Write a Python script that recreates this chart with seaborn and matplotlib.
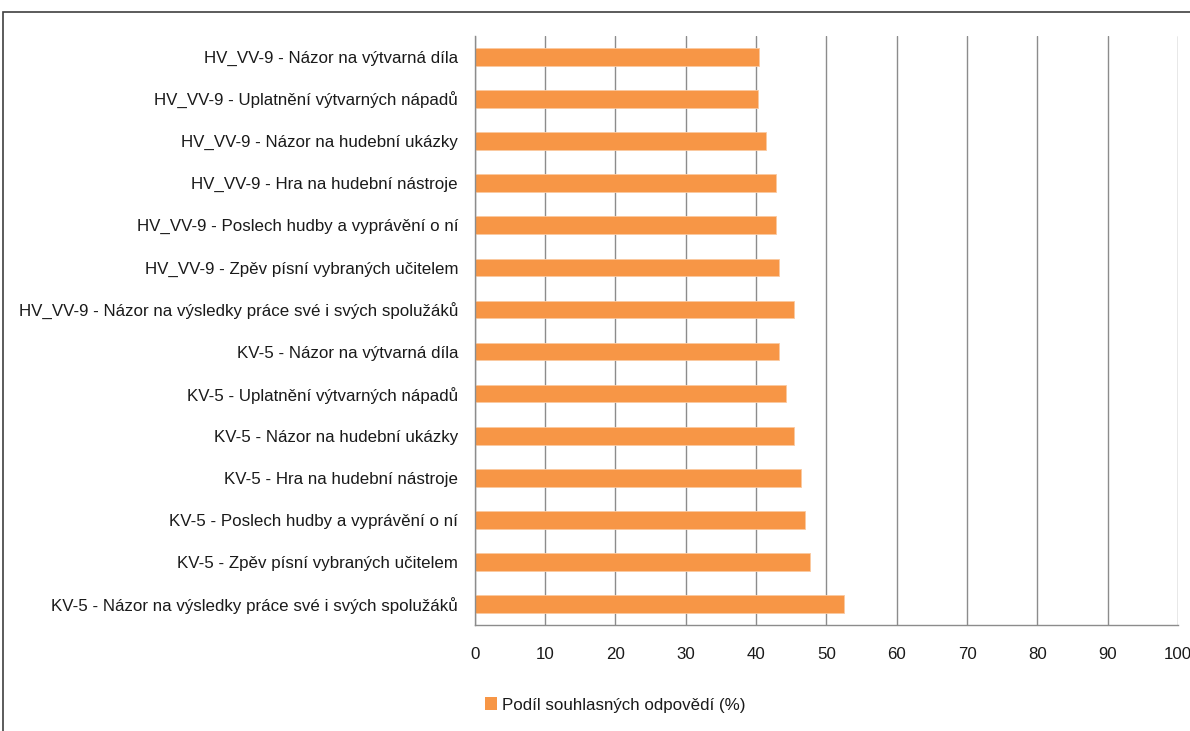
import numpy as np
import pandas as pd
import seaborn as sns
import matplotlib.pyplot as plt
from matplotlib.patches import Rectangle, Patch

# data (top to bottom as in the chart)
kategorie = [
    "HV_VV-9 - Názor na výtvarná díla",
    "HV_VV-9 - Uplatnění výtvarných nápadů",
    "HV_VV-9 - Názor na hudební ukázky",
    "HV_VV-9 - Hra na hudební nástroje",
    "HV_VV-9 - Poslech hudby a vyprávění o ní",
    "HV_VV-9 - Zpěv písní vybraných učitelem",
    "HV_VV-9 - Názor na výsledky práce své i svých spolužáků",
    "KV-5 - Názor na výtvarná díla",
    "KV-5 - Uplatnění výtvarných nápadů",
    "KV-5 - Názor na hudební ukázky",
    "KV-5 - Hra na hudební nástroje",
    "KV-5 - Poslech hudby a vyprávění o ní",
    "KV-5 - Zpěv písní vybraných učitelem",
    "KV-5 - Názor na výsledky práce své i svých spolužáků",
]
podil = [40.4, 40.3, 41.4, 42.9, 42.9, 43.2, 45.4,
         43.3, 44.3, 45.4, 46.4, 46.9, 47.7, 52.5]
x_ticks = list(range(0, 101, 10))
serie = "Podíl souhlasných odpovědí (%)"

df = pd.DataFrame({"kategorie": kategorie, "podil": podil})

sns.set_style("white")
plt.rcParams['font.family'] = ['Liberation Sans', 'DejaVu Sans']

fig = plt.figure(figsize=(11.9, 7.31), dpi=100)
ax = fig.add_axes([474.7 / 1190, 1 - 625 / 731, (1178 - 474.7) / 1190, (625 - 36) / 731])

oranzova = "#F79646"
sns.barplot(data=df, y="kategorie", x="podil", order=kategorie, color=oranzova,
            width=0.42, saturation=1, ax=ax, edgecolor="#FBC9A0", linewidth=0.6)

ax.set_xlim(0, 100)
ax.set_ylim(len(kategorie) - 0.5, -0.5)
ax.set_xticks(x_ticks)
ax.set_xlabel("")
ax.set_ylabel("")

ax.xaxis.grid(True, color="#8c8c8c", linewidth=1)
ax.set_axisbelow(True)

for s in ["top", "right"]:
    ax.spines[s].set_visible(False)
for s in ["left", "bottom"]:
    ax.spines[s].set_color("#8c8c8c")
    ax.spines[s].set_linewidth(1)

fs = 12.2
ax.tick_params(axis="y", which="major", length=0, pad=12, labelsize=fs, labelcolor="#1a1a1a")
ax.set_yticks(np.arange(-0.5, len(kategorie), 1), minor=True)
ax.tick_params(axis="y", which="minor", length=6, color="#8c8c8c", direction="out")
ax.tick_params(axis="x", which="major", length=7, color="#8c8c8c", direction="out",
               pad=9, labelsize=fs, labelcolor="#1a1a1a")

# outer chart frame
fig.patches.append(Rectangle((3 / 1190, -0.05), 1.2, 1 - 12 / 731 + 0.05,
                             transform=fig.transFigure, fill=False,
                             edgecolor="#404040", linewidth=1.2))

fig.legend(handles=[Patch(facecolor=oranzova, edgecolor="none")], labels=[serie],
           loc="center left", bbox_to_anchor=(470 / 1190, 1 - 705 / 731),
           frameon=False, fontsize=fs, handlelength=0.7, handleheight=0.8,
           handletextpad=0.3, labelcolor="#1a1a1a")

fig.savefig("out.png", dpi=100)
